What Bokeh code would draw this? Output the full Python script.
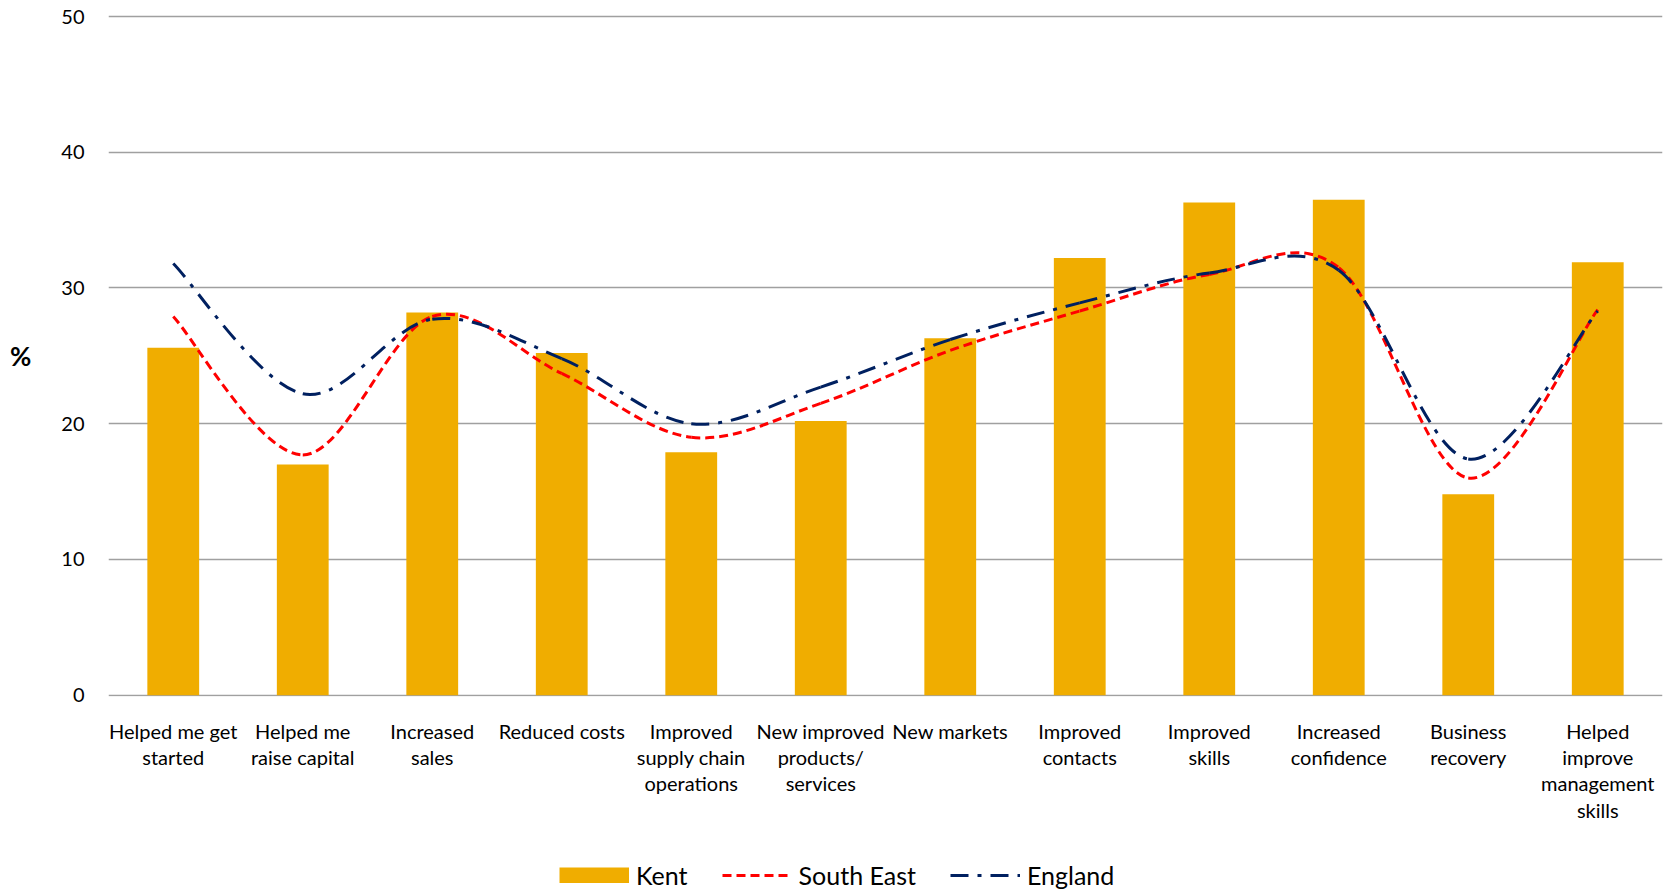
from bokeh.plotting import figure
from bokeh.models import (ColumnDataSource, FixedTicker, Legend, LegendItem, Range1d)
from bokeh.layouts import column
from bokeh.embed import file_html
from bokeh.resources import INLINE

categories = [
    "Helped me get\nstarted",
    "Helped me\nraise capital",
    "Increased\nsales",
    "Reduced costs",
    "Improved\nsupply chain\noperations",
    "New improved\nproducts/\nservices",
    "New markets",
    "Improved\ncontacts",
    "Improved\nskills",
    "Increased\nconfidence",
    "Business\nrecovery",
    "Helped\nimprove\nmanagement\nskills",
]
kent = [25.6, 17.0, 28.2, 25.2, 17.9, 20.2, 26.3, 32.2, 36.3, 36.5, 14.8, 31.9]
south_east = [27.9, 17.7, 27.9, 23.7, 19.0, 21.5, 25.4, 28.3, 31.0, 31.5, 16.0, 28.4]
england = [31.8, 22.2, 27.7, 24.8, 20.0, 22.7, 26.2, 28.9, 31.1, 31.3, 17.4, 28.3]
y_ticks = [0, 10, 20, 30, 40, 50]
series_names = ["Kent", "South East", "England"]

FONT = "Lato"
BAR = "#F0AD00"
RED = "#FF0000"
NAVY = "#002060"
RED_DASH = "9 5"
NAVY_DASH = "18 9 4 9"

xs = list(range(len(categories)))


def smooth_segments(vals):
    # Bezier control points (Catmull-Rom style, as spreadsheet "smoothed line")
    n = len(vals)
    d = dict(x0=[], y0=[], x1=[], y1=[], cx0=[], cy0=[], cx1=[], cy1=[])
    for i in range(n - 1):
        pm = vals[max(i - 1, 0)]
        p0 = vals[i]
        p1 = vals[i + 1]
        p2 = vals[min(i + 2, n - 1)]
        xm = xs[max(i - 1, 0)]
        x0 = xs[i]
        x1 = xs[i + 1]
        x2 = xs[min(i + 2, n - 1)]
        d["x0"].append(x0)
        d["y0"].append(p0)
        d["x1"].append(x1)
        d["y1"].append(p1)
        d["cx0"].append(x0 + (x1 - xm) / 6.0)
        d["cy0"].append(p0 + (p1 - pm) / 6.0)
        d["cx1"].append(x1 - (x2 - x0) / 6.0)
        d["cy1"].append(p1 - (p2 - p0) / 6.0)
    return ColumnDataSource(d)


p = figure(width=1671, height=850, output_backend="svg", toolbar_location=None,
           x_range=Range1d(-0.5, len(categories) - 0.5), y_range=Range1d(-0.1, 50.15),
           min_border_left=108, min_border_right=9, min_border_top=14, min_border_bottom=154)
p.outline_line_color = None
p.background_fill_color = "white"
p.border_fill_color = "white"

bars = p.vbar(x=xs, top=kent, width=0.4, fill_color=BAR, line_color=None)

se = p.bezier(source=smooth_segments(south_east), x0="x0", y0="y0", x1="x1", y1="y1",
              cx0="cx0", cy0="cy0", cx1="cx1", cy1="cy1",
              line_color=RED, line_width=3, line_dash=RED_DASH)
en = p.bezier(source=smooth_segments(england), x0="x0", y0="y0", x1="x1", y1="y1",
              cx0="cx0", cy0="cy0", cx1="cx1", cy1="cy1",
              line_color=NAVY, line_width=3, line_dash=NAVY_DASH)

# axes
p.xaxis.ticker = FixedTicker(ticks=xs)
p.xaxis.major_label_overrides = {i: c for i, c in zip(xs, categories)}
p.xaxis.major_tick_line_color = None
p.xaxis.minor_tick_line_color = None
p.xaxis.axis_line_color = None
p.xaxis.major_label_standoff = 16
p.xaxis.major_label_text_font = FONT
p.xaxis.major_label_text_font_size = "20px"
p.xaxis.major_label_text_color = "#000000"
p.xaxis.major_label_text_line_height = 1.1

yax = p.yaxis[0]
yax.ticker = FixedTicker(ticks=y_ticks)
yax.major_tick_line_color = None
yax.minor_tick_line_color = None
yax.axis_line_color = None
yax.major_label_standoff = 18
yax.major_label_text_font = FONT
yax.major_label_text_font_size = "20px"
yax.major_label_text_color = "#000000"
yax.axis_label = "%"
yax.axis_label_text_font = FONT
yax.axis_label_text_font_size = "26px"
yax.axis_label_text_font_style = "bold"
yax.axis_label_text_color = "#000000"
yax.axis_label_standoff = 27
if hasattr(yax, "axis_label_orientation"):
    yax.axis_label_orientation = "horizontal"

p.xgrid.grid_line_color = None
p.ygrid.grid_line_color = "#a0a0a0"
p.ygrid.grid_line_width = 1.3

# legend strip below the chart (proxy renderers lie outside the visible range)
lg = figure(width=1671, height=40, output_backend="svg", toolbar_location=None,
            x_range=Range1d(0, 1), y_range=Range1d(0, 1),
            x_axis_location=None, y_axis_location=None,
            min_border_left=0, min_border_right=0, min_border_top=0, min_border_bottom=0)
lg.outline_line_color = None
lg.xgrid.visible = False
lg.ygrid.visible = False
r_kent = lg.line(x=[-6, -5], y=[-5, -5], line_color=BAR, line_width=16, line_cap="butt")
r_se = lg.line(x=[-6, -5], y=[-5, -5], line_color=RED, line_width=3, line_dash=RED_DASH)
r_en = lg.line(x=[-6, -5], y=[-5, -5], line_color=NAVY, line_width=3, line_dash=NAVY_DASH)

legend = Legend(items=[LegendItem(label=series_names[0], renderers=[r_kent]),
                       LegendItem(label=series_names[1], renderers=[r_se]),
                       LegendItem(label=series_names[2], renderers=[r_en])],
                orientation="horizontal", location=(451, 0),
                glyph_width=70, glyph_height=16, label_standoff=7, spacing=34,
                label_text_font=FONT, label_text_font_size="25px",
                label_text_color="#000000", border_line_color=None,
                background_fill_alpha=0, padding=0, margin=0)
lg.add_layout(legend, "center")

open("out.html", "w").write(file_html(column(p, lg, spacing=0), INLINE))
